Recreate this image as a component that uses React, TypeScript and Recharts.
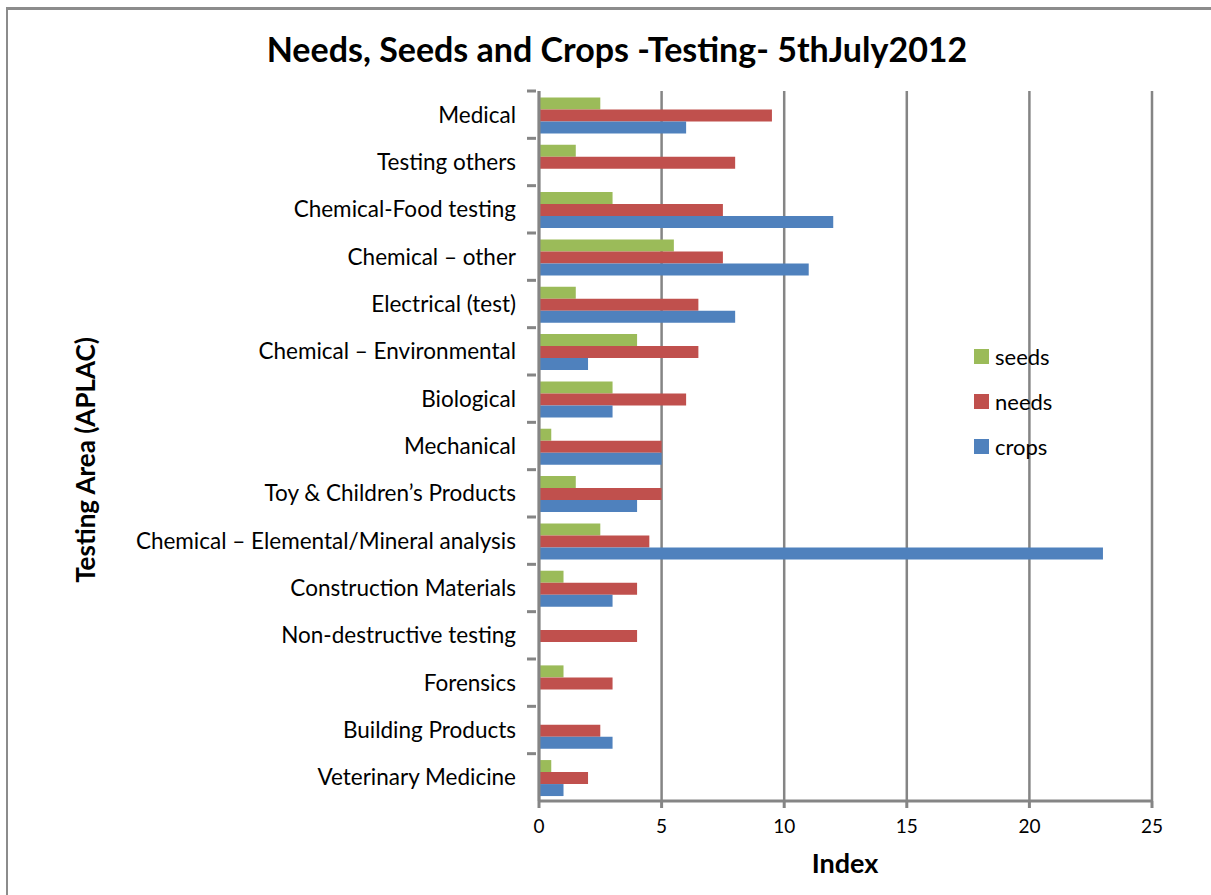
import { BarChart, Bar, XAxis, YAxis, CartesianGrid } from "recharts";

const categories = [
  "Medical",
  "Testing others",
  "Chemical-Food testing",
  "Chemical – other",
  "Electrical (test)",
  "Chemical – Environmental",
  "Biological",
  "Mechanical",
  "Toy & Children’s Products",
  "Chemical – Elemental/Mineral analysis",
  "Construction Materials",
  "Non-destructive testing",
  "Forensics",
  "Building Products",
  "Veterinary Medicine",
];

const seeds = [2.5, 1.5, 3, 5.5, 1.5, 4, 3, 0.5, 1.5, 2.5, 1, 0, 1, 0, 0.5];
const needs = [9.5, 8, 7.5, 7.5, 6.5, 6.5, 6, 5, 5, 4.5, 4, 4, 3, 2.5, 2];
const crops = [6, 0, 12, 11, 8, 2, 3, 5, 4, 23, 3, 0, 0, 3, 1];

const xTicks = [0, 5, 10, 15, 20, 25];

const series = [
  { key: "seeds", color: "#9BBB59" },
  { key: "needs", color: "#C0504D" },
  { key: "crops", color: "#4F81BD" },
];

const data = categories.map((name, i) => ({
  name,
  seeds: seeds[i],
  needs: needs[i],
  crops: crops[i],
}));

const W = 1211;
const H = 895;
const X_AXIS_H = 30;
const M = { top: 91, right: 59, bottom: 94 - X_AXIS_H, left: 10 };
const band = (H - M.top - M.bottom - X_AXIS_H) / categories.length;
const FONT = "Lato, 'Open Sans', sans-serif";
const GREY = "#858585";

// category label at the band centre, tick mark at the band boundary
function CategoryTick(props: any) {
  const { x, y, payload } = props;
  return (
    <g>
      <line x1={x + 11} x2={x + 20} y1={y - band / 2} y2={y - band / 2} stroke={GREY} strokeWidth={3} />
      <text x={x} y={y} dy={8} textAnchor="end" fontSize={22.5} fill="#000" fontFamily={FONT}>
        {payload.value}
      </text>
    </g>
  );
}

function LegendBox() {
  return (
    <div style={{ position: "absolute", left: 974, top: 334, fontFamily: FONT, fontSize: 22 }}>
      {series.map((s) => (
        <div key={s.key} style={{ display: "flex", alignItems: "center", height: 45 }}>
          <span style={{ width: 15, height: 15, background: s.color, marginRight: 6 }} />
          <span>{s.key}</span>
        </div>
      ))}
    </div>
  );
}

export default function App() {
  return (
    <div style={{ position: "absolute", left: 0, top: 0, width: W, height: H, background: "#fff", overflow: "hidden" }}>
      <div
        style={{
          position: "absolute",
          left: 6,
          top: 7,
          width: W,
          height: H,
          borderLeft: "2px solid #8c8c8c",
          borderTop: "3px solid #8c8c8c",
        }}
      />
      <div
        style={{
          position: "absolute",
          left: 0,
          top: 28,
          width: 1234,
          textAlign: "center",
          fontFamily: FONT,
          fontWeight: "bold",
          fontSize: 34,
        }}
      >
        Needs, Seeds and Crops -Testing- 5thJuly2012
      </div>
      <div
        style={{
          position: "absolute",
          left: 85,
          top: 460,
          transform: "translate(-50%, -50%) rotate(-90deg)",
          whiteSpace: "nowrap",
          fontFamily: FONT,
          fontWeight: "bold",
          fontSize: 26,
        }}
      >
        Testing Area (APLAC)
      </div>
      <div
        style={{
          position: "absolute",
          left: 845,
          top: 862,
          transform: "translate(-50%, -50%)",
          fontFamily: FONT,
          fontWeight: "bold",
          fontSize: 27,
        }}
      >
        Index
      </div>
      <div style={{ position: "absolute", left: 0, top: 0 }}>
        <BarChart
          width={W}
          height={H}
          data={data}
          layout="vertical"
          margin={M}
          barCategoryGap="13.5%"
          barGap={0}
        >
          <CartesianGrid vertical horizontal={false} stroke={GREY} strokeWidth={2.5} />
          <XAxis
            type="number"
            domain={[0, 25]}
            ticks={xTicks}
            interval={0}
            height={X_AXIS_H}
            stroke={GREY}
            strokeWidth={3}
            tickSize={7}
            tickMargin={12}
            tick={{ fill: "#000", fontSize: 19, fontFamily: FONT }}
          />
          <YAxis
            type="category"
            dataKey="name"
            width={529}
            stroke={GREY}
            strokeWidth={3}
            tickLine={false}
            interval={0}
            tick={<CategoryTick />}
            tickMargin={17}
          />
          {series.map((s) => (
            <Bar key={s.key} dataKey={s.key} name={s.key} fill={s.color} isAnimationActive={false} />
          ))}
        </BarChart>
      </div>
      <LegendBox />
    </div>
  );
}
